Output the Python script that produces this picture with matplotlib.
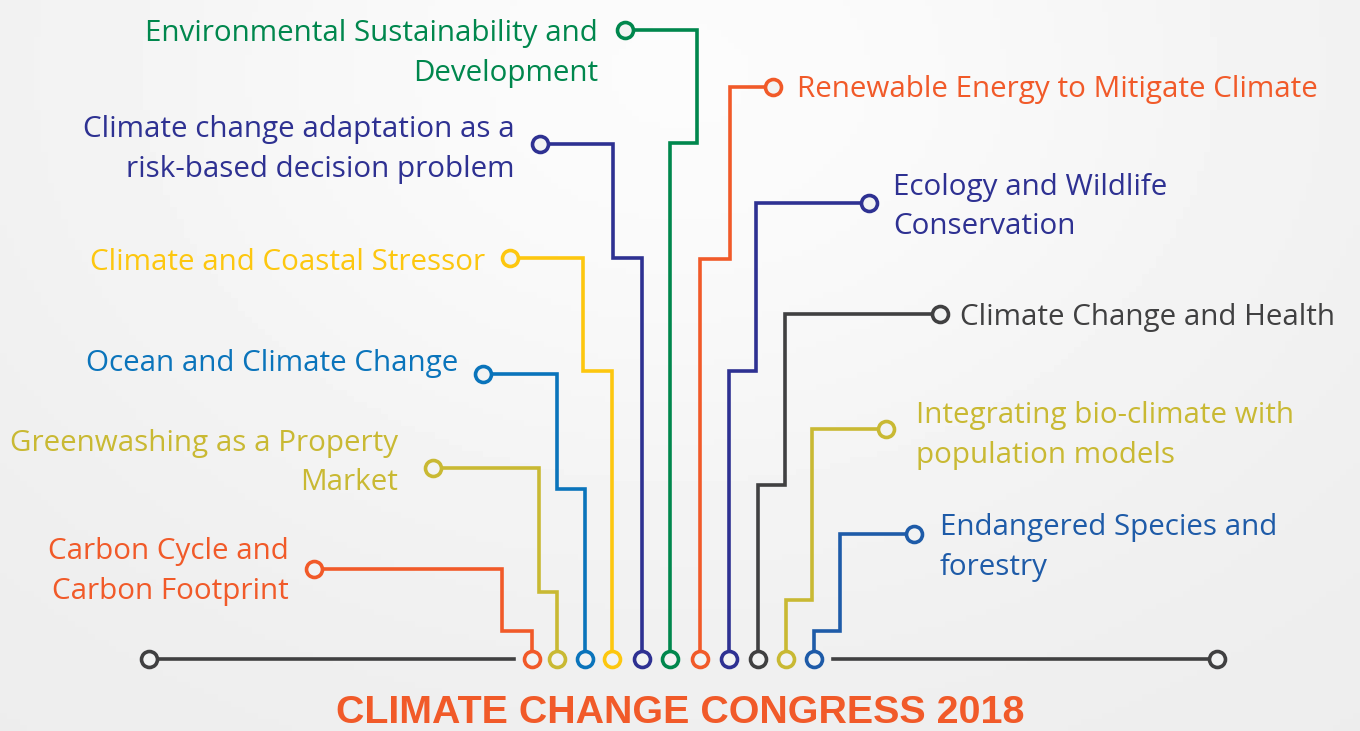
import numpy as np
import matplotlib.pyplot as plt

# topic labels, colours and node positions (pixel grid of the original poster)
labels = [
    "Carbon Cycle and\nCarbon Footprint",
    "Greenwashing as a Property\nMarket",
    "Ocean and Climate Change",
    "Climate and Coastal Stressor",
    "Climate change adaptation as a\nrisk-based decision problem",
    "Environmental Sustainability and\nDevelopment",
    "Renewable Energy to Mitigate Climate",
    "Ecology and Wildlife\nConservation",
    "Climate Change and Health",
    "Integrating bio-climate with\npopulation models",
    "Endangered Species and\nforestry",
]
colors = ["#f15a29", "#c9b933", "#0a74bb", "#fdc70f", "#2e3192", "#00874d",
          "#f15a29", "#2e3192", "#404041", "#c9b933", "#1e5ba8"]
sides = ["L", "L", "L", "L", "L", "L", "R", "R", "R", "R", "R"]

base_x = [532, 557, 585, 612, 642, 670, 700, 729, 758, 786, 814]
node_x = [314, 433, 483, 510, 540, 625, 773, 869, 940, 886, 914]
node_y = [569, 468, 374, 258, 144, 30, 87, 203, 314, 429, 534]
bend_x = [502, 539, 557, 583, 613, 697, 730, 756, 785, 812, 840]
bend_y = [631, 592, 489, 371, 258, 143, 259, 371, 485, 600, 631]
text_x = [289, 398, 458, 485, 515, 598, 797, 893, 960, 916, 940]
text_y = [572, 463, 363, 263, 149, 54, 90, 207, 317, 435, 547]

base_y = 659
end_x = [149, 1217]

fig = plt.figure(figsize=(13.6, 7.31), dpi=100)
ax = fig.add_axes([0, 0, 1, 1])
ax.set_xlim(0, 1360)
ax.set_ylim(731, 0)
ax.axis("off")

# soft light background
gx, gy = np.meshgrid(np.linspace(0, 1, 200), np.linspace(0, 1, 120))
glow = np.exp(-((gx - 0.5) ** 2 / 0.25 + (gy - 0.1) ** 2 / 0.5))
bg = 0.925 + 0.06 * glow
ax.imshow(bg, extent=[0, 1360, 731, 0], cmap="gray", vmin=0, vmax=1,
          aspect="auto", zorder=0)
bgc = "#f2f3f3"

lw = 2.6
ms = 11.5
font = "Open Sans"
fs = 21.3

# base line
ax.plot([end_x[0], 514], [base_y, base_y], color="#404041", lw=lw, zorder=2)
ax.plot([833, end_x[1]], [base_y, base_y], color="#404041", lw=lw, zorder=2)
ax.plot(end_x, [base_y, base_y], "o", ms=ms, mfc=bgc, mec="#404041",
        mew=2.6, zorder=4)

for i in range(len(labels)):
    xs = [node_x[i], bend_x[i], bend_x[i], base_x[i], base_x[i]]
    ys = [node_y[i], node_y[i], bend_y[i], bend_y[i], base_y]
    ax.plot(xs, ys, color=colors[i], lw=lw, zorder=2, solid_joinstyle="miter")
    ax.plot([node_x[i], base_x[i]], [node_y[i], base_y], "o", ms=ms, mfc=bgc,
            mec=colors[i], mew=2.6, zorder=4)
    if sides[i] == "L":
        ax.text(text_x[i], text_y[i], labels[i], color=colors[i], fontsize=fs,
                family=font, ha="right", va="center", linespacing=1.5,
                multialignment="right")
    else:
        ax.text(text_x[i], text_y[i], labels[i], color=colors[i], fontsize=fs,
                family=font, ha="left", va="center", linespacing=1.5,
                multialignment="left")

ax.text(680, 713, "CLIMATE CHANGE CONGRESS 2018", color="#f15a29",
        fontsize=28.4, fontweight="bold", family="Liberation Sans",
        ha="center", va="center")

fig.savefig("out.png", dpi=100)
